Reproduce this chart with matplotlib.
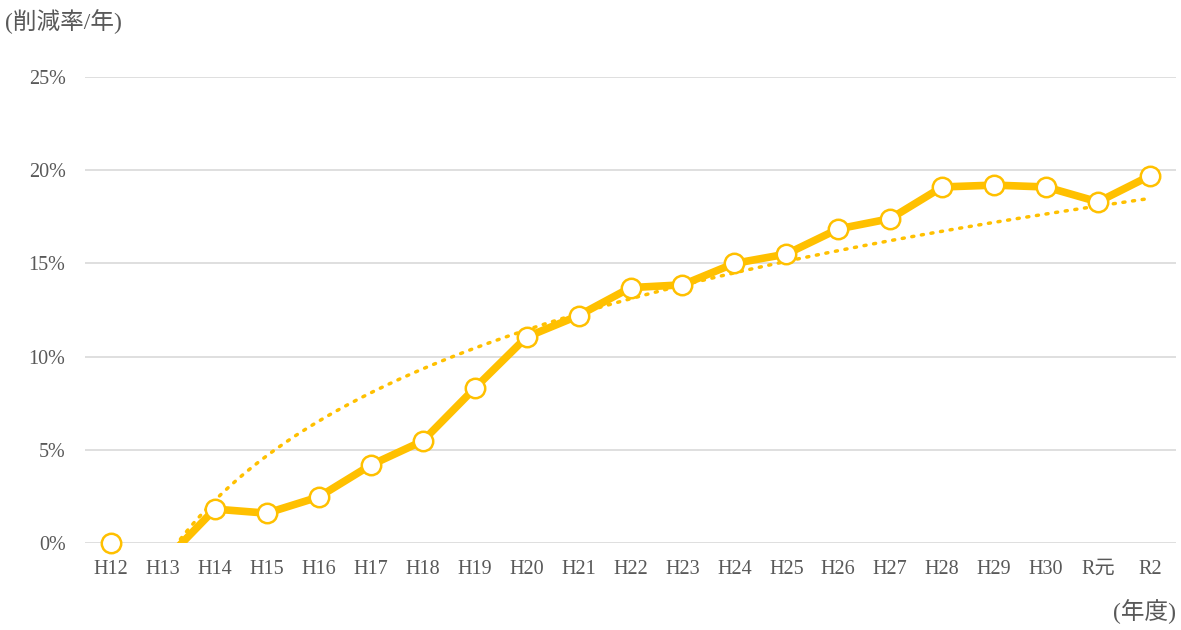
import numpy as np
import matplotlib.pyplot as plt

plt.rcParams['font.family'] = ['Liberation Serif', 'Noto Sans CJK JP']

# 年度ごとの削減率 (%)
years = ['H12', 'H13', 'H14', 'H15', 'H16', 'H17', 'H18', 'H19', 'H20', 'H21',
         'H22', 'H23', 'H24', 'H25', 'H26', 'H27', 'H28', 'H29', 'H30', 'R元', 'R2']
rate = [0.0, -1.05, 1.82, 1.6, 2.47, 4.18, 5.47, 8.3, 11.05, 12.2,
        13.7, 13.85, 15.0, 15.5, 16.85, 17.4, 19.1, 19.2, 19.1, 18.3, 19.7]

orange = '#FFC000'
gray = '#595959'

x = np.arange(len(years))
y = np.array(rate) / 100

# 対数近似の傾向線
n = x + 1
a, b = np.polyfit(np.log(n), y, 1)
xs = np.linspace(0, len(years) - 1, 400)
trend = a * np.log(xs + 1) + b

fig = plt.figure(figsize=(11.81, 6.3), dpi=100)
ax = fig.add_axes([85 / 1181, 87 / 630, 1091 / 1181, 466 / 630])

for v in np.arange(0, 0.26, 0.05):
    ax.axhline(v, color='#D9D9D9', lw=1.2, zorder=0)

ax.plot(xs, trend, color=orange, lw=2.5, ls=(0, (0.6, 2.2)), dash_capstyle='round', zorder=2)
ax.plot(x, y, color=orange, lw=5.5, solid_joinstyle='round', zorder=3)
# マーカーは軸の外にはみ出しても描く（範囲外の値は除く）
vis = y >= 0
ax.plot(x[vis], y[vis], ls='none', marker='o', ms=14, mfc='white', mec=orange, mew=1.8,
        zorder=4, clip_on=False)

ax.set_xlim(-0.5, len(years) - 0.5)
ax.set_ylim(0, 0.25)
ax.set_xticks(x)
ax.set_xticklabels(years)
ax.set_yticks(np.arange(0, 0.26, 0.05))
ax.set_yticklabels([f'{int(round(v * 100))}%' for v in np.arange(0, 0.26, 0.05)])
ax.tick_params(length=0, labelsize=14.5, colors=gray, pad=12)
ax.tick_params(axis='y', pad=14)
for s in ax.spines.values():
    s.set_visible(False)

fig.text(5 / 1181, 1 - 22 / 630, '(削減率/年)', fontsize=17, color=gray, va='center', ha='left')
fig.text(1176 / 1181, 1 - 612 / 630, '(年度)', fontsize=17, color=gray, va='center', ha='right')

fig.savefig('out.png', dpi=100)
